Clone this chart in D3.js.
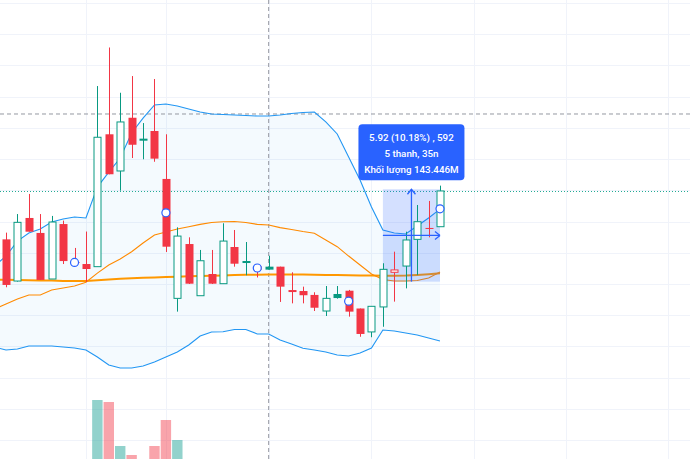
<!DOCTYPE html>
<html><head><meta charset="utf-8">
<script src="https://cdn.jsdelivr.net/npm/d3@7"></script>
<style>html,body{margin:0;padding:0;background:#fff;}svg{display:block;}</style>
</head><body>
<svg id="c" width="690" height="459"></svg>
<script>
// ---- DATA ----
const bars = d3.range(-1, 39); // bar index (index -1 is just left of the visible area)
const open  = [61.9, 60.86,58.19,62.23,61.27,58.32,61.84,59.41,59.28,59.11,67.59,65.24,68.65,67.31,67.80,64.73,57.08,60.56,57.25,58.64,58.02,60.37,59.38,59.15,59.11,59.11,57.56,57.55,57.30,56.27,57.36,57.57,56.43,54.93,56.53,58.75,59.15,60.86,61.59,61.67];
const high  = [62.3, 61.29,62.48,63.77,62.48,62.36,62.06,60.31,61.36,70.68,73.15,70.25,71.32,68.31,71.13,67.59,61.63,60.99,60.18,60.18,61.89,61.46,60.69,59.22,59.81,59.11,58.75,57.83,57.47,57.87,57.87,57.62,56.43,56.59,59.33,60.07,61.35,63.06,63.32,64.30];
const low   = [60.2, 57.79,58.15,61.35,58.26,58.32,59.28,59.22,58.13,59.09,65.03,63.98,66.07,65.99,65.83,60.05,56.23,58.00,57.25,58.00,58.00,59.11,58.56,58.42,58.92,56.85,56.76,56.76,56.27,55.95,57.06,55.91,54.62,54.59,55.26,56.87,57.72,58.58,60.99,61.67];
const close = [60.5, 57.94,61.95,61.35,58.26,61.97,59.47,59.35,58.96,67.40,65.03,68.38,66.92,67.18,66.03,60.39,61.07,58.02,59.49,58.02,60.75,59.30,59.44,58.90,58.92,57.83,57.58,57.28,56.48,57.08,57.10,56.23,54.80,56.57,58.94,58.90,60.82,61.99,61.56,63.96];
const volume = [20, 22,18,25,20,15,12,10,14,150,146,58,40,26,58,110,70,28,20,15,22,18,12,10,8,18,14,12,16,14,8,15,22,20,30,24,28,31,26,30]; // millions
const bbUpper = [59.15,59.79,60.75,61.27,61.52,61.97,62.16,62.29,62.23,64.21,65.17,66.07,67.67,68.63,69.47,69.53,69.40,69.21,69.02,68.89,68.86,68.83,68.79,68.76,68.76,68.83,68.92,68.99,69.02,68.38,67.61,66.14,64.66,62.93,61.46,61.27,61.20,61.72,62.23,62.80];
const bbBasis = [56.40,56.72,57.04,57.30,57.30,57.62,57.74,57.87,58.11,58.70,59.22,59.60,60.07,60.63,61.14,61.33,61.52,61.67,61.82,61.94,61.99,62.00,61.94,61.82,61.78,61.61,61.49,61.36,61.25,60.82,60.39,59.79,59.22,58.64,58.29,58.19,58.19,58.22,58.38,58.77];
const bbLower = [53.96,53.77,53.84,54.03,54.03,54.03,53.96,53.90,53.77,53.32,52.81,52.62,52.62,52.75,53.00,53.32,53.64,54.09,54.67,54.93,54.94,55.09,55.09,54.80,54.80,54.41,54.16,53.88,53.77,53.64,53.45,53.39,53.58,53.90,55.05,54.99,54.86,54.73,54.54,54.35];
const maLong  = [58.28,58.27,58.26,58.24,58.23,58.22,58.20,58.19,58.19,58.24,58.29,58.33,58.37,58.40,58.42,58.45,58.47,58.49,58.51,58.53,58.55,58.57,58.59,58.60,58.61,58.61,58.61,58.61,58.60,58.58,58.58,58.56,58.55,58.54,58.53,58.53,58.54,58.58,58.63,58.69];
const markerBars = [6, 14, 22, 30, 38];
const timeGridBars = [7, 14, 23, 32, 41, 49, 58];
const priceTicks = d3.range(48, 78, 2);
const crosshairBar = 23, crosshairPrice = 68.89;
const measureFrom = 33, measureTo = 38, measureBase = 58.15, measureChange = 5.92;
const measureLabels = ["5.92 (10.18%) , 592", "5 thanh, 35n", "Khối lượng 143.446M"];

// ---- SCALES ----
const W = 690, H = 459;
const svg = d3.select("#c");
const x = d3.scaleLinear().domain([0, 38]).range([6, 440]);
const y = d3.scaleLinear().domain([58, 76]).range([284, 3]);
const yv = d3.scaleLinear().domain([0, 150]).range([475, 400]);
const UP = "#089981", DOWN = "#f23645";
const rows = bars.map((b, i) => ({b, o: open[i], h: high[i], l: low[i], c: close[i], v: volume[i],
  up: i === 0 ? close[i] >= open[i] : close[i] >= close[i-1], hollow: close[i] > open[i],
  u: bbUpper[i], m: bbBasis[i], lo: bbLower[i], ma: maLong[i]}));

// grid
const yAxis = d3.axisLeft(y).tickValues(priceTicks).tickSize(-W).tickFormat("");
svg.append("g").call(yAxis)
  .call(g => g.select(".domain").remove())
  .call(g => g.selectAll("line").attr("stroke", "#f0f3fa").attr("stroke-width", 1).attr("shape-rendering","crispEdges"));
const xAxis = d3.axisTop(x).tickValues(timeGridBars).tickSize(-H).tickFormat("");
svg.append("g").call(xAxis)
  .call(g => g.select(".domain").remove())
  .call(g => g.selectAll("line").attr("stroke", "#f0f3fa").attr("stroke-width", 1).attr("shape-rendering","crispEdges"));

// volume
svg.append("g").selectAll("rect").data(rows).join("rect")
  .attr("x", d => x(d.b) - 5.2).attr("width", 10.4)
  .attr("y", d => yv(d.v)).attr("height", d => yv(0) - yv(d.v))
  .attr("fill", d => d.up ? "rgba(38,166,154,0.5)" : "rgba(242,54,69,0.45)");

// bollinger fill
svg.append("path").datum(rows)
  .attr("d", d3.area().x(d => x(d.b)).y0(d => y(d.lo)).y1(d => y(d.u)))
  .attr("fill", "rgba(33,150,243,0.05)");

// horizontal crosshair + last price line
svg.append("line").attr("x1", 0).attr("x2", W).attr("y1", y(crosshairPrice)).attr("y2", y(crosshairPrice))
  .attr("stroke", "#9598a1").attr("stroke-dasharray", "4 3").attr("stroke-width", 1);
const lastClose = close[close.length - 1];
svg.append("line").attr("x1", 0).attr("x2", W).attr("y1", Math.round(y(lastClose)) + 0.5).attr("y2", Math.round(y(lastClose)) + 0.5)
  .attr("stroke", "#22ab94").attr("stroke-dasharray", "1 2").attr("stroke-width", 1);
svg.append("line").attr("x1", x(crosshairBar)).attr("x2", x(crosshairBar)).attr("y1", 0).attr("y2", H)
  .attr("stroke", "#9598a1").attr("stroke-dasharray", "4 3").attr("stroke-width", 1);

// lines
const line = key => d3.line().x(d => x(d.b)).y(d => y(d[key]));
svg.append("path").datum(rows).attr("d", line("ma")).attr("fill", "none").attr("stroke", "#ff9800").attr("stroke-width", 2);
svg.append("path").datum(rows).attr("d", line("m")).attr("fill", "none").attr("stroke", "#ff8a00").attr("stroke-width", 1.1);
svg.append("path").datum(rows).attr("d", line("u")).attr("fill", "none").attr("stroke", "#2196f3").attr("stroke-width", 1.1);
svg.append("path").datum(rows).attr("d", line("lo")).attr("fill", "none").attr("stroke", "#2196f3").attr("stroke-width", 1.1);

// measure rect (behind candles)
const mx0 = x(measureFrom), mx1 = x(measureTo), my0 = y(measureBase + measureChange), my1 = y(measureBase);
svg.append("rect").attr("x", mx0).attr("y", my0).attr("width", mx1 - mx0).attr("height", my1 - my0)
  .attr("fill", "rgba(41,98,255,0.2)");

// candles
const cg = svg.append("g");
const bw = 8;
rows.forEach(d => {
  const col = d.up ? UP : DOWN;
  const cx = Math.round(x(d.b)) + 0.5;
  const top = y(Math.max(d.o, d.c)), bot = y(Math.min(d.o, d.c));
  const bh = Math.max(1, bot - top);
  if (d.hollow) {
    cg.append("line").attr("x1", cx).attr("x2", cx).attr("y1", y(d.h)).attr("y2", top).attr("stroke", col);
    cg.append("line").attr("x1", cx).attr("x2", cx).attr("y1", top + bh).attr("y2", y(d.l)).attr("stroke", col);
    cg.append("rect").attr("x", cx - bw/2 + 0.5).attr("y", top).attr("width", bw - 1).attr("height", bh)
      .attr("fill", "#fff").attr("stroke", col).attr("stroke-width", 1);
  } else {
    cg.append("line").attr("x1", cx).attr("x2", cx).attr("y1", y(d.h)).attr("y2", y(d.l)).attr("stroke", col);
    cg.append("rect").attr("x", cx - bw/2).attr("y", top).attr("width", bw).attr("height", bh).attr("fill", col);
  }
});

// markers
svg.append("g").selectAll("circle").data(markerBars).join("circle")
  .attr("cx", b => x(b)).attr("cy", b => { const r = rows[b + 1]; return y((r.o + r.c) / 2); })
  .attr("r", 4).attr("fill", "#fff").attr("stroke", "#2962ff").attr("stroke-width", 1.2);

// measure arrows
const ac = "#2962ff";
const midX = (mx0 + mx1) / 2, midY = (my0 + my1) / 2;
const ag = svg.append("g").attr("stroke", ac).attr("stroke-width", 1.3).attr("fill", "none");
ag.append("line").attr("x1", midX).attr("x2", midX).attr("y1", my1).attr("y2", my0);
ag.append("path").attr("d", `M${midX-4},${my0+5}L${midX},${my0}L${midX+4},${my0+5}`);
ag.append("line").attr("x1", mx0).attr("x2", mx1).attr("y1", midY).attr("y2", midY);
ag.append("path").attr("d", `M${mx1-5},${midY-4}L${mx1},${midY}M${mx1-5},${midY+4}L${mx1},${midY}`);

// label
const lw = 106, lh = 56;
const lx = midX - lw / 2, ly = my0 - 9 - lh;
svg.append("rect").attr("x", lx).attr("y", ly).attr("width", lw).attr("height", lh).attr("rx", 4).attr("fill", "#2962ff");
svg.append("g").selectAll("text").data(measureLabels).join("text")
  .attr("x", midX).attr("y", (d, i) => ly + 16.5 + i * 16)
  .attr("text-anchor", "middle").attr("fill", "#fff")
  .attr("font-family", "Roboto, 'Noto Sans', sans-serif").attr("font-size", 9.8).attr("font-weight", 500)
  .text(d => d);
</script>
</body></html>
